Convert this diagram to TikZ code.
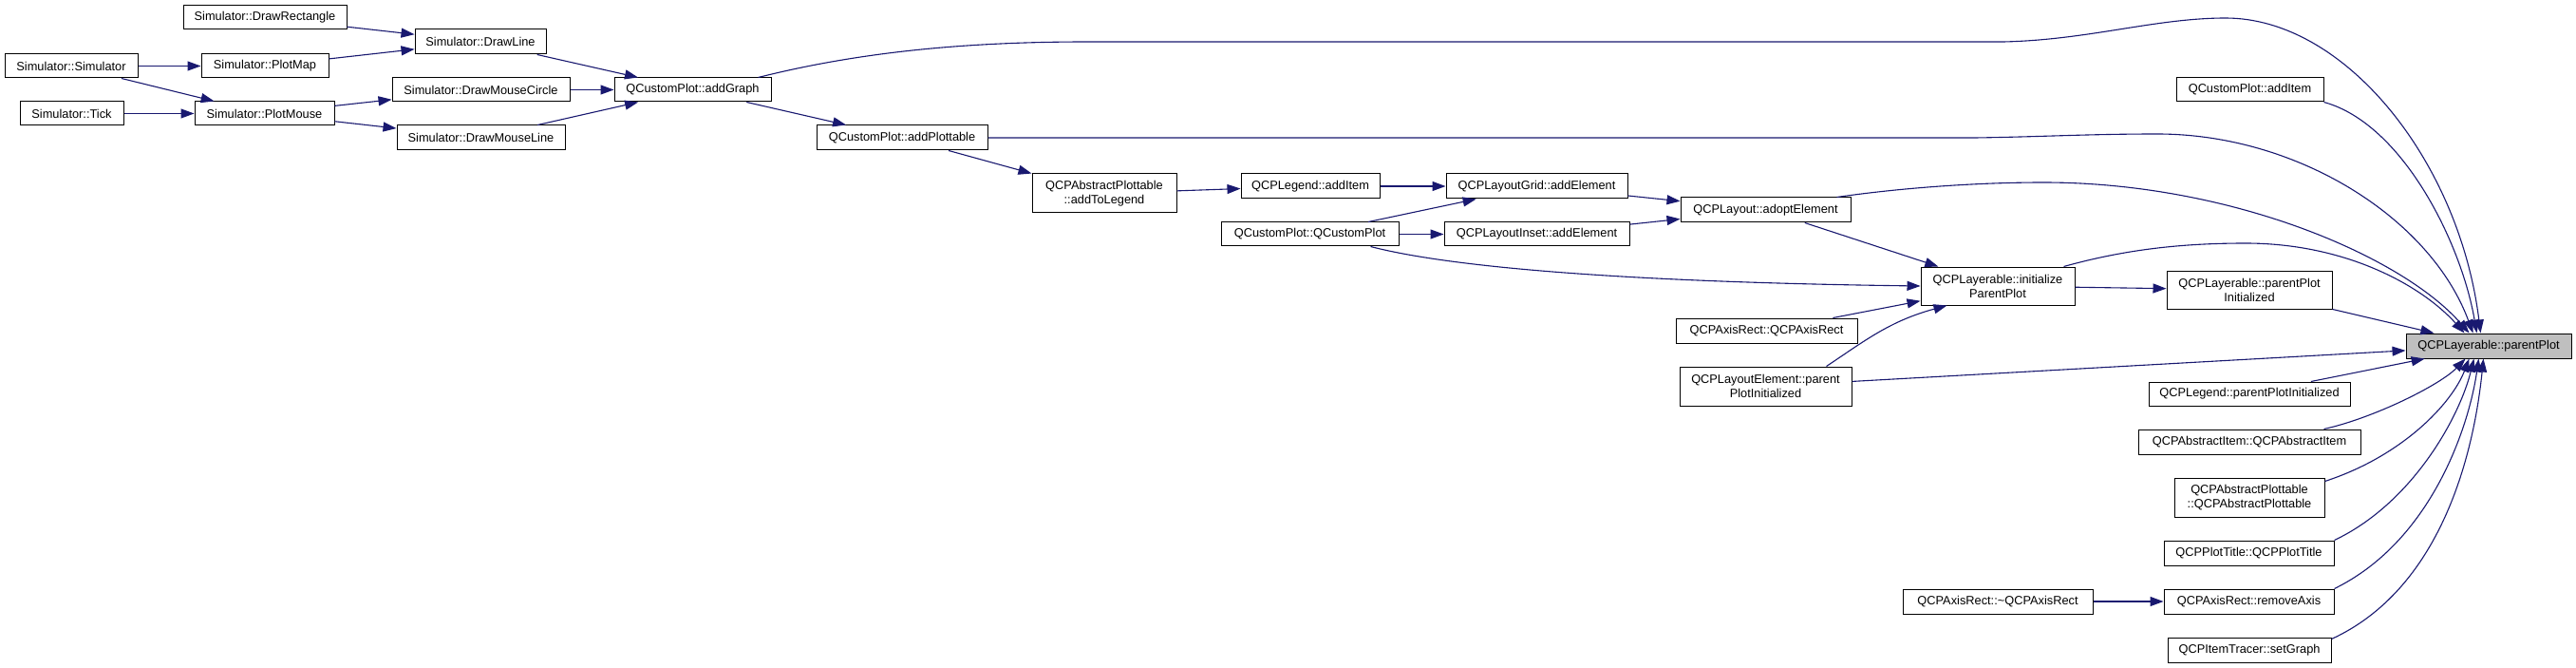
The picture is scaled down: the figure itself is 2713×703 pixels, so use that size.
\documentclass[tikz,border=0pt]{standalone}
\usepackage{fontspec}
\setmainfont{Liberation Sans}
\usetikzlibrary{arrows.meta,calc}
\definecolor{edgecol}{HTML}{191970}
\definecolor{hlgray}{HTML}{BFBFBF}
\newcommand\bx[7][]{\node[box,#1,minimum width={#5-#3},minimum height={#6-#4}] (#2) at ({(#3+#5)/2},{(#4+#6)/2}) {#7};}
\begin{document}
\begin{tikzpicture}[x=1pt,y=-1pt,
  box/.style={draw=black,line width=1pt,fill=white,inner sep=0pt,align=center,font=\fontsize{12.8pt}{15pt}\selectfont},
  target/.style={fill=hlgray},
  edge/.style={draw=edgecol,line width=1.1pt,-{Triangle[length=14pt,width=10pt]}}]
\useasboundingbox[fill=white] (0,0) rectangle (2713,703);

\bx{sim}{5}{57}{145}{82}{Simulator::Simulator}
\bx{tick}{21}{107}{130}{132}{Simulator::Tick}
\bx{rect}{193}{6}{365}{31}{Simulator::DrawRectangle}
\bx{plotmap}{212}{57}{346}{82}{Simulator::PlotMap}
\bx{plotmouse}{205}{107}{352}{132}{Simulator::PlotMouse}
\bx{drawline}{437}{31}{575}{57}{Simulator::DrawLine}
\bx{circle}{413}{82}{600}{107}{Simulator::DrawMouseCircle}
\bx{mline}{418}{132}{595}{158}{Simulator::DrawMouseLine}
\bx{addgraph}{647}{82}{812}{107}{QCustomPlot::addGraph}
\bx{addplottable}{860}{132}{1040}{158}{QCustomPlot::addPlottable}
\bx{addtolegend}{1087}{183}{1239}{224}{QCPAbstractPlottable\\::addToLegend}
\bx{legadditem}{1307}{183}{1453}{209}{QCPLegend::addItem}
\bx{qcp}{1286}{234}{1473}{259}{QCustomPlot::QCustomPlot}
\bx{gridadd}{1523}{183}{1714}{209}{QCPLayoutGrid::addElement}
\bx{insetadd}{1521}{234}{1716}{259}{QCPLayoutInset::addElement}
\bx{adopt}{1770}{208}{1949}{234}{QCPLayout::adoptElement}
\bx{axisrect}{1765}{335}{1956}{361}{QCPAxisRect::QCPAxisRect}
\bx{lepi}{1769}{386}{1950}{427}{QCPLayoutElement::parent\\PlotInitialized}
\bx{init}{2023}{281}{2185}{321}{QCPLayerable::initialize\\ParentPlot}
\bx{lpi}{2282}{285}{2456}{325}{QCPLayerable::parentPlot\\Initialized}
\bx{additem}{2292}{82}{2447}{107}{QCustomPlot::addItem}
\bx{legpi}{2263}{402}{2475}{427}{QCPLegend::parentPlotInitialized}
\bx{absitem}{2252}{452}{2486}{478}{QCPAbstractItem::QCPAbstractItem}
\bx{absplot}{2290}{503}{2448}{544}{QCPAbstractPlottable\\::QCPAbstractPlottable}
\bx{title}{2279}{569}{2458}{595}{QCPPlotTitle::QCPPlotTitle}
\bx{dtor}{2004}{620}{2204}{646}{QCPAxisRect::\textasciitilde QCPAxisRect}
\bx{remove}{2279}{620}{2458}{646}{QCPAxisRect::removeAxis}
\bx{setgraph}{2283}{671}{2455}{697}{QCPItemTracer::setGraph}
\bx[target]{pp}{2534}{351}{2708}{377}{QCPLayerable::parentPlot}

% straight edges
\draw[edge] (rect) -- (drawline);
\draw[edge] (plotmap) -- (drawline);
\draw[edge] (sim) -- (plotmap);
\draw[edge] (sim) -- (plotmouse);
\draw[edge] (tick) -- (plotmouse);
\draw[edge] (plotmouse) -- (circle);
\draw[edge] (plotmouse) -- (mline);
\draw[edge] (drawline) -- (addgraph);
\draw[edge] (circle) -- (addgraph);
\draw[edge] (mline) -- (addgraph);
\draw[edge] (addgraph) -- (addplottable);
\draw[edge] (addplottable) -- (addtolegend);
\draw[edge] (addtolegend) -- (legadditem);
\draw[edge] (legadditem) -- (gridadd);
\draw[edge] (qcp) -- (gridadd);
\draw[edge] (qcp) -- (insetadd);
\draw[edge] (gridadd) -- (adopt);
\draw[edge] (insetadd) -- (adopt);
\draw[edge] (adopt) -- (init);
\draw[edge] (axisrect) -- (init);
\draw[edge] (init) -- (lpi);
\draw[edge] (lpi) -- (pp);
\draw[edge] (lepi) -- (pp);
\draw[edge] (legpi) -- (pp);
\draw[edge] (dtor) -- (remove);

% curved edges
\draw[edge] ($(addgraph.north east)+(-14,0)$) .. controls (900,56) and (1010,44) .. (1145,44) -- (2110,44)
  .. controls (2200,42) and (2270,19) .. (2344,19) .. controls (2470,19) and (2590,170) .. ($(pp.north west)+(79,0)$);
\draw[edge] (additem.south east) .. controls (2530,130) and (2592,255) .. ($(pp.north west)+(75,0)$);
\draw[edge] (addplottable.east) -- (2080,145) .. controls (2150,144) and (2200,141) .. (2272,141)
  .. controls (2420,141) and (2560,230) .. ($(pp.north west)+(71,0)$);
\draw[edge] ($(adopt.north east)+(-15,0)$) .. controls (2000,198) and (2080,192) .. (2152,192)
  .. controls (2350,192) and (2530,270) .. ($(pp.north west)+(67,0)$);
\draw[edge] ($(init.north east)+(-12,0)$) .. controls (2240,262) and (2300,256) .. (2365,256)
  .. controls (2470,256) and (2550,300) .. ($(pp.north west)+(62,0)$);
\draw[edge] ($(qcp.south west)+(158,0)$) .. controls (1530,282) and (1720,297) .. (init.west);
\draw[edge] ($(lepi.north west)+(155,0)$) .. controls (1965,358) and (1990,338) .. ($(init.south west)+(28,0)$);
\draw[edge] ($(absitem.north east)+(-39,0)$) .. controls (2500,440) and (2570,405) .. ($(pp.south west)+(63,0)$);
\draw[edge] ($(absplot.north east)+(0,4)$) .. controls (2530,480) and (2582,425) .. ($(pp.south west)+(67,0)$);
\draw[edge] (title.north east) .. controls (2540,530) and (2590,440) .. ($(pp.south west)+(72,0)$);
\draw[edge] (remove.north east) .. controls (2560,570) and (2600,450) .. ($(pp.south west)+(77,0)$);
\draw[edge] ($(setgraph.north east)+(0,2)$) .. controls (2570,620) and (2605,480) .. ($(pp.south west)+(82,0)$);
\end{tikzpicture}
\end{document}
